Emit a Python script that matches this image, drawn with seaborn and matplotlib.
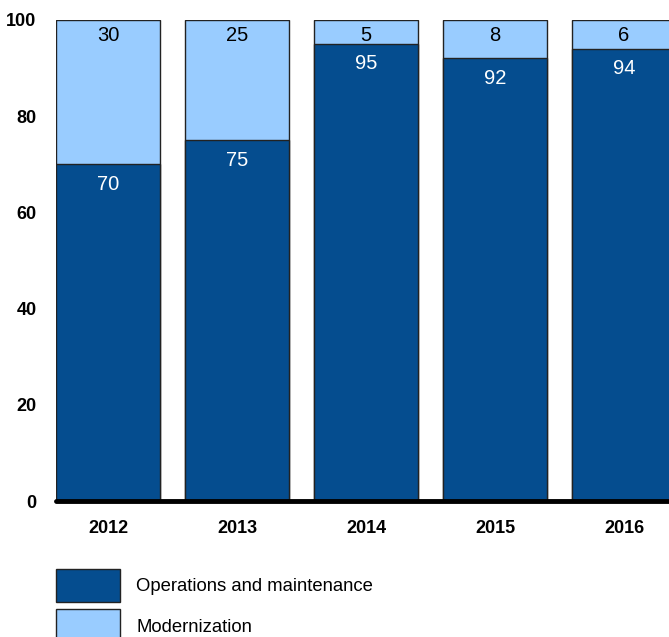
import matplotlib
matplotlib.use("Agg")
import matplotlib.pyplot as plt
import seaborn as sns
import pandas as pd
from matplotlib.patches import Patch

years = ["2012", "2013", "2014", "2015", "2016"]
operations = [70, 75, 95, 92, 94]
modernization = [30, 25, 5, 8, 6]
series_names = ["Operations and maintenance", "Modernization"]
y_ticks = [0, 20, 40, 60, 80, 100]

dark = "#054D8F"
light = "#99CCFF"

sns.set_theme(style="white")
plt.rcParams["font.family"] = ["Liberation Sans", "DejaVu Sans"]
plt.rcParams["text.color"] = "black"
plt.rcParams["xtick.color"] = "black"
plt.rcParams["ytick.color"] = "black"

df = pd.DataFrame({"year": years, "ops": operations, "mod": modernization})
df["total"] = df["ops"] + df["mod"]

fig = plt.figure(figsize=(6.69, 6.37), dpi=100)
ax = fig.add_axes([56/669, (637-501)/637, 1 - 56/669, (501-20)/637])

sns.barplot(data=df, x="year", y="total", color=light, edgecolor="#222222",
            linewidth=1, width=0.806, saturation=1, ax=ax)
sns.barplot(data=df, x="year", y="ops", color=dark, edgecolor="#222222",
            linewidth=1, width=0.806, saturation=1, ax=ax)

for i, (o, m) in enumerate(zip(operations, modernization)):
    ax.annotate(str(m), xy=(i, o + m), xytext=(0, -4), textcoords="offset points",
                ha="center", va="top", fontsize=14.5, color="black")
    ax.annotate(str(o), xy=(i, o), xytext=(0, -7.5), textcoords="offset points",
                ha="center", va="top", fontsize=14.5, color="white")

ax.axhline(0, color="black", linewidth=3.5, zorder=5, clip_on=False)
ax.set_xlim(-0.403, 4.349)
ax.set_ylim(0, 100)
ax.set_yticks(y_ticks)
ax.set_yticklabels([str(t) for t in y_ticks], fontweight="bold", fontsize=13)
ax.tick_params(axis="y", length=0, pad=14)
ax.tick_params(axis="x", length=0, pad=14)
for lbl in ax.get_xticklabels():
    lbl.set_fontweight("bold")
    lbl.set_fontsize(13)
ax.set_xlabel("")
ax.set_ylabel("")
for s in ax.spines.values():
    s.set_visible(False)
ax.grid(False)

handles = [Patch(facecolor=dark, edgecolor="#222222", linewidth=1, label=series_names[0]),
           Patch(facecolor=light, edgecolor="#222222", linewidth=1, label=series_names[1])]
fig.legend(handles=handles, loc="upper left", bbox_to_anchor=(52/669, 1 - 565/637),
           frameon=False, fontsize=13.3, handlelength=3.5, handleheight=2.37,
           labelspacing=0.42, handletextpad=0.85, borderaxespad=0, borderpad=0.2)

fig.savefig("out.png", dpi=100)
